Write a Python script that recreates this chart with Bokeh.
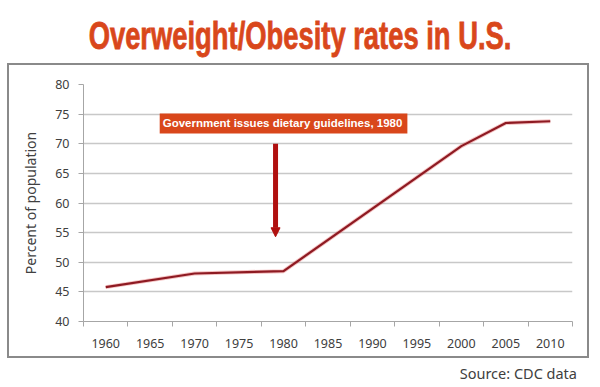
from bokeh.plotting import figure
from bokeh.models import Range1d, FixedTicker, Label, Arrow, NormalHead, ColumnDataSource, Div
from bokeh.layouts import column
from bokeh.embed import file_html
from bokeh.resources import INLINE

# ---- data ----
years = [1960, 1970, 1980, 2000, 2005, 2010]
rates = [45.8, 48.1, 48.5, 69.6, 73.5, 73.8]
tick_years = [1960, 1965, 1970, 1975, 1980, 1985, 1990, 1995, 2000, 2005, 2010]
y_ticks = [40, 45, 50, 55, 60, 65, 70, 75, 80]
title_text = "Overweight/Obesity rates in U.S."
note_text = "Government issues dietary guidelines, 1980"
note_year = 1980
note_level = 73.4
arrow_year = 1979.1
arrow_from = 70.0
arrow_to = 54.3
source_text = "Source: CDC data"
y_label = "Percent of population"

BODY = "Noto Sans"
ORANGE = "#D9471B"
TXT = "#404040"

title_div = Div(text=title_text, width=600, height=63,
                styles={"font-family": "'Liberation Sans', sans-serif",
                        "font-size": "38px", "font-weight": "bold", "color": ORANGE,
                        "-webkit-text-stroke": "0.8px " + ORANGE,
                        "text-align": "center", "line-height": "63px",
                        "transform": "translateY(5px) scaleX(0.72)",
                        "white-space": "nowrap", "padding": "0", "margin": "0"})

p = figure(width=582, height=295, title=None,
           x_range=Range1d(1957.5, 2012.5), y_range=Range1d(40, 80),
           output_backend="svg", toolbar_location=None,
           min_border_left=74, min_border_right=19,
           min_border_top=19, min_border_bottom=39,
           styles={"border": "2px solid #8a8a8a", "margin-left": "7px"})
p.outline_line_color = None
p.background_fill_color = "white"
p.border_fill_color = "white"

# x axis: labels at centers, ticks at category boundaries
minor = [t - 2.5 for t in tick_years] + [tick_years[-1] + 2.5]
p.xaxis.ticker = FixedTicker(ticks=tick_years, minor_ticks=minor)
p.xaxis.major_tick_line_color = None
p.xaxis.major_tick_out = 0
p.xaxis.major_tick_in = 0
p.xaxis.minor_tick_line_color = "#a6a6a6"
p.xaxis.minor_tick_out = 5
p.xaxis.minor_tick_in = 0
p.xaxis.axis_line_color = "#a6a6a6"
p.xaxis.major_label_standoff = 12
p.xaxis.major_label_text_font = BODY
p.xaxis.major_label_text_font_size = "12.5px"
p.xaxis.major_label_text_color = TXT

p.yaxis.ticker = FixedTicker(ticks=y_ticks)
p.yaxis.minor_tick_line_color = None
p.yaxis.major_tick_line_color = "#a6a6a6"
p.yaxis.major_tick_out = 5
p.yaxis.major_tick_in = 0
p.yaxis.axis_line_color = "#a6a6a6"
p.yaxis.major_label_standoff = 9
p.yaxis.major_label_text_font = BODY
p.yaxis.major_label_text_font_size = "12.5px"
p.yaxis.major_label_text_color = TXT
p.yaxis.axis_label = y_label
p.yaxis.axis_label_text_font = BODY
p.yaxis.axis_label_text_font_style = "normal"
p.yaxis.axis_label_text_font_size = "14px"
p.yaxis.axis_label_text_color = TXT
p.yaxis.axis_label_standoff = 12

p.xgrid.visible = False
p.ygrid.ticker = FixedTicker(ticks=y_ticks)
p.ygrid.grid_line_color = "#c8c8c8"
p.ygrid.grid_line_width = 1.5

src = ColumnDataSource(dict(year=years, rate=rates))
p.line("year", "rate", source=src, line_color="#e05050", line_width=4, line_alpha=0.35)
p.line("year", "rate", source=src, line_color="#8e1a22", line_width=2.2)

# annotation box
p.add_layout(Label(x=note_year, y=note_level, text=note_text,
                   text_align="center", text_baseline="middle",
                   text_font="Liberation Sans", text_font_style="bold",
                   text_font_size="11.5px", text_color="white",
                   background_fill_color=ORANGE, padding=(3, 5, 3, 5)))

p.add_layout(Arrow(x_start=arrow_year, y_start=arrow_from, x_end=arrow_year, y_end=arrow_to,
                   line_color="#B0100F", line_width=5,
                   end=NormalHead(size=9, fill_color="#B0100F", line_color="#B0100F")))

source_div = Div(text=source_text, width=577, height=24,
                 styles={"font-family": "'Noto Sans', sans-serif", "font-size": "14.5px",
                         "color": TXT, "text-align": "right", "line-height": "24px",
                         "transform": "translateY(3px)",
                         "white-space": "nowrap", "padding": "0", "margin": "0"})

layout = column(title_div, p, source_div, spacing=0)
open("out.html", "w").write(file_html(layout, INLINE))
